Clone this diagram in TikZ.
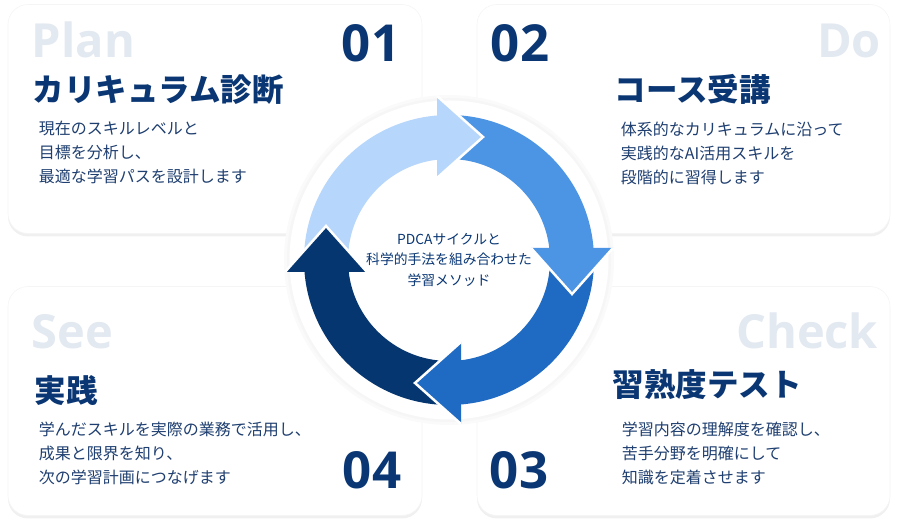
\documentclass[tikz,border=0pt]{standalone}
\usepackage{fontspec}
\setmainfont{Noto Sans CJK JP}
\newfontfamily\latinfont{Open Sans}
\usetikzlibrary{positioning,shadows}

\definecolor{planc}{HTML}{B6D6FB}
\definecolor{doc}{HTML}{4C94E4}
\definecolor{checkc}{HTML}{1F6AC3}
\definecolor{seec}{HTML}{06366F}
\definecolor{navy}{HTML}{0A3774}
\definecolor{bodytext}{HTML}{1F3F70}
\definecolor{labelgray}{HTML}{E3E9F1}

\tikzset{
    card/.style={draw=black!4, line width=0.6pt, fill=white, rounded corners=20pt,
        minimum width=414pt, minimum height=229pt,
        drop shadow={shadow xshift=0pt, shadow yshift=-3pt, opacity=0.06, fill=black}},
    phase/.style={font=\latinfont\bfseries\fontsize{47}{47}\selectfont, text=labelgray, inner sep=0pt},
    stepno/.style={font=\latinfont\bfseries\fontsize{51}{51}\selectfont, text=navy, inner sep=0pt},
    cardtitle/.style={font=\bfseries\fontsize{31.5}{34}\selectfont, text=navy, inner sep=0pt},
    cardbody/.style={font=\fontsize{16}{24}\selectfont, text=bodytext, align=left, inner sep=0pt},
    flank/.style={draw=white, line width=2.5pt, line join=miter},
}

% one quarter of the ring and its head, drawn for Plan and turned for the others
\newcommand\ringband{(183:145) arc[start angle=183, end angle=93, radius=145] -- (93:101) arc[start angle=93, end angle=183, radius=101] -- cycle}
\newcommand\ringhead{(-12,82) -- (34,123) -- (-12,164) -- cycle}
\newcommand\ringflank{(-12,82) -- (34,123) -- (-12,164)}

\begin{document}
\begin{tikzpicture}[x=1pt, y=1pt]
  \useasboundingbox (0,0) rectangle (898,529);

  % CARDS
  \node[card] (plancard) at (215,410) {};
  \node[card, minimum width=413pt] (docard) at (683.5,410) {};
  \node[card] (seecard) at (215,128) {};
  \node[card, minimum width=413pt] (checkcard) at (683.5,128) {};

  % Plan
  \node[phase, below right=53pt and 24pt of plancard.north west, anchor=base west] (planlabel) {Plan};
  \node[stepno, below left=57pt and 22pt of plancard.north east, anchor=base east] (planno) {01};
  \node[cardtitle, below right=85pt and 25pt of plancard.north west, anchor=west] (plantitle) {カリキュラム診断};
  \node[cardbody, below right=148pt and 31pt of plancard.north west, anchor=west] (plantext)
    {現在のスキルレベルと\\目標を分析し、\\最適な学習パスを設計します};

  % Do
  \node[stepno, below right=57pt and 14pt of docard.north west, anchor=base west] (dono) {02};
  \node[phase, below left=53pt and 9pt of docard.north east, anchor=base east] (dolabel) {Do};
  \node[cardtitle, below right=85pt and 138pt of docard.north west, anchor=west] (dotitle) {コース受講};
  \node[cardbody, below right=149pt and 144pt of docard.north west, anchor=west] (dotext)
    {体系的なカリキュラムに沿って\\実践的なAI活用スキルを\\段階的に習得します};

  % Check
  \node[phase, below left=62pt and 12pt of checkcard.north east, anchor=base east] (checklabel) {Check};
  \node[cardtitle, below right=98pt and 136pt of checkcard.north west, anchor=west] (checktitle) {習熟度テスト};
  \node[cardbody, below right=167pt and 145pt of checkcard.north west, anchor=west] (checktext)
    {学習内容の理解度を確認し、\\苦手分野を明確にして\\知識を定着させます};
  \node[stepno, below right=202pt and 13pt of checkcard.north west, anchor=base west] (checkno) {03};

  % See
  \node[phase, below right=62pt and 24pt of seecard.north west, anchor=base west] (seelabel) {See};
  \node[cardtitle, below right=104pt and 27pt of seecard.north west, anchor=west] (seetitle) {実践};
  \node[cardbody, below right=167pt and 31pt of seecard.north west, anchor=west] (seetext)
    {学んだスキルを実際の業務で活用し、\\成果と限界を知り、\\次の学習計画につなげます};
  \node[stepno, below left=202pt and 21pt of seecard.north east, anchor=base east] (seeno) {04};

  % CICLO
  \coordinate (ring) at (449,269);
  \fill[black!2] (ring) circle[radius=165];
  \fill[black!3.5] (ring) circle[radius=162];
  \fill[white] (ring) circle[radius=159.5];

  \begin{scope}[shift={(ring)}]
    \fill[planc] \ringband;
    \fill[doc, rotate=-90] \ringband;
    \fill[checkc, rotate=180] \ringband;
    \fill[seec, rotate=90] \ringband;

    \fill[planc] \ringhead;  \path[flank] \ringflank;
    \fill[doc, rotate=-90] \ringhead;  \path[flank, rotate=-90] \ringflank;
    \fill[checkc, rotate=180] \ringhead;  \path[flank, rotate=180] \ringflank;
    \fill[seec, rotate=90] \ringhead;  \path[flank, rotate=90] \ringflank;
  \end{scope}

  \node[font=\fontsize{13.8}{20.5}\selectfont, text=navy, align=center, inner sep=0pt] (method) at (ring)
    {PDCAサイクルと\\科学的手法を組み合わせた\\学習メソッド};
\end{tikzpicture}
\end{document}
